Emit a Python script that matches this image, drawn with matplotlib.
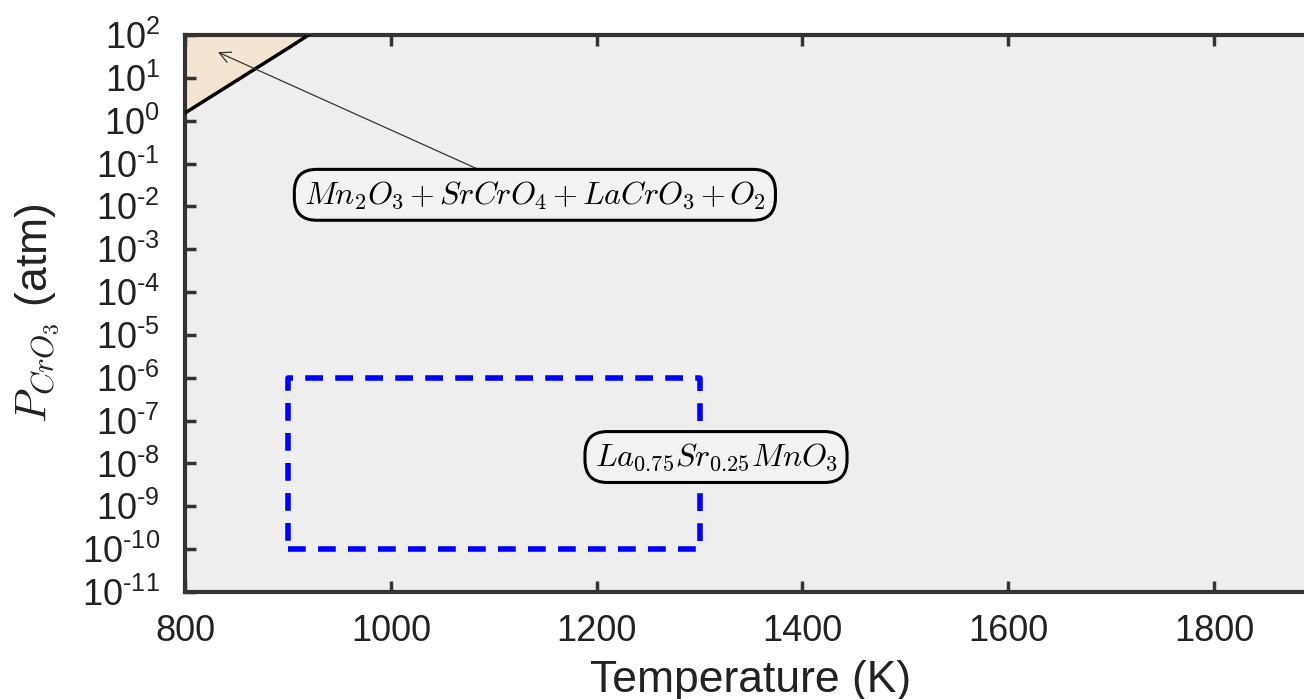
import numpy as np
import matplotlib
matplotlib.use("Agg")
import matplotlib.pyplot as plt
from matplotlib.ticker import FixedLocator, FuncFormatter

# Data
boundary_T = [800, 902, 920]
boundary_logP = [0.18, 1.72, 2.0]
rect_T = [900, 1300, 1300, 900, 900]
rect_P = [1e-10, 1e-10, 1e-6, 1e-6, 1e-10]
xticks = [800, 1000, 1200, 1400, 1600, 1800]
ytick_exps = list(range(-11, 3))

plt.rcParams['font.family'] = ['Liberation Sans', 'DejaVu Sans']
plt.rcParams['mathtext.fontset'] = 'cm'

fig = plt.figure(figsize=(13.04, 6.99), dpi=100)
ax = fig.add_axes([185/1304, 1-592/699, (1317-185)/1304, (592-35)/699])
ax.set_facecolor('#eeeeee')

ax.set_yscale('log')
ax.set_xlim(800, 1900)
ax.set_ylim(1e-11, 1e2)

bT = np.array(boundary_T)
bP = 10 ** np.array(boundary_logP)
ax.fill_between(bT, bP, 1e2, color='#f3e5d2', zorder=1)
ax.plot(bT, bP, color='black', lw=2.5, zorder=3)

ax.plot(rect_T, rect_P, color='#0000ff', lw=4, dashes=(3.2, 2.2), zorder=3)

ax.annotate(r'$Mn_2O_3\,{+}\,SrCrO_4\,{+}\,LaCrO_3\,{+}\,O_2$', xy=(832, 10**1.6), xytext=(1140, 10**-1.73),
            ha='center', va='center', fontsize=23,
            bbox=dict(boxstyle='round,pad=0.3,rounding_size=0.7', fc='#f2f2f2', ec='black', lw=2.2),
            arrowprops=dict(arrowstyle='->', color='#333333', lw=0.9, mutation_scale=20,
                            shrinkA=0, shrinkB=0),
            zorder=5)
ax.text(1316, 10**-7.85, r'$La_{0.75}Sr_{0.25}MnO_3$', ha='center', va='center', fontsize=23,
        bbox=dict(boxstyle='round,pad=0.3,rounding_size=0.7', fc='#f2f2f2', ec='black', lw=2.2),
        zorder=5)

def yfmt(v, p):
    e = int(round(np.log10(v)))
    s = str(abs(e))
    if e < 0:
        s = '\u2010' + s
    return r'$\mathdefault{10^{%s}}$' % s

ax.xaxis.set_major_locator(FixedLocator(xticks))
ax.yaxis.set_major_locator(FixedLocator([10.0**e for e in ytick_exps]))
ax.yaxis.set_minor_locator(FixedLocator([]))
ax.yaxis.set_major_formatter(FuncFormatter(yfmt))

ax.tick_params(axis='both', direction='in', length=8, width=2.5, color='#333333',
               labelsize=26, labelcolor='#222222', top=True, right=False)
ax.tick_params(axis='x', pad=16)
ax.tick_params(axis='y', pad=18)
for s in ['left', 'bottom', 'top', 'right']:
    ax.spines[s].set_linewidth(3)
    ax.spines[s].set_color('#333333')

ax.set_xlabel('Temperature (K)', fontsize=32, color='#222222', labelpad=8)
ax.set_ylabel(r'$P_{CrO_3}$ (atm)', fontsize=32, color='#222222', labelpad=14)

fig.savefig('out.png', dpi=100)
